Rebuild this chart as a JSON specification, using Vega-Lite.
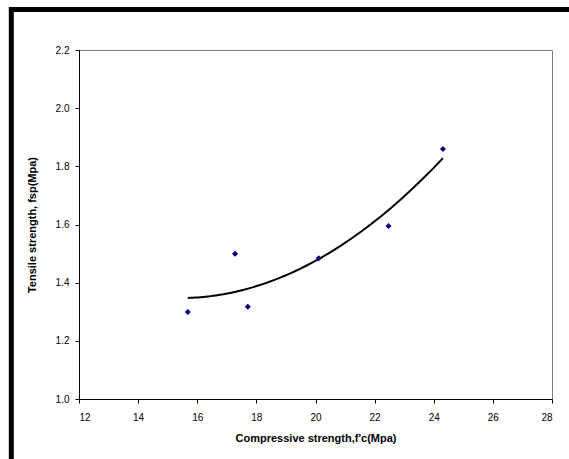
{
  "$schema": "https://vega.github.io/schema/vega-lite/v6.json",
  "autosize": "none",
  "width": 473,
  "height": 349,
  "padding": {"left": 79, "top": 50, "right": 17, "bottom": 60},
  "background": "white",
  "config": {
    "font": "Liberation Sans",
    "view": {"stroke": "#808080", "strokeWidth": 1},
    "axis": {
      "grid": false,
      "domainColor": "#000000",
      "domainWidth": 1,
      "tickColor": "#000000",
      "tickSize": 4,
      "labelColor": "#000000",
      "labelFont": "Liberation Sans",
      "labelFontSize": 10,
      "titleColor": "#000000",
      "titleFont": "Liberation Sans",
      "titleFontSize": 11,
      "titleFontWeight": "bold"
    }
  },
  "data": {
    "values": [
      {"fc": 15.68, "fsp": 1.299},
      {"fc": 17.28, "fsp": 1.499},
      {"fc": 17.71, "fsp": 1.317},
      {"fc": 20.11, "fsp": 1.484},
      {"fc": 22.47, "fsp": 1.595},
      {"fc": 24.31, "fsp": 1.86}
    ]
  },
  "layer": [
    {
      "data": {"values": [{"frame": "outer"}]},
      "mark": {"type": "rect", "fill": null, "stroke": "#000000", "strokeWidth": 5},
      "encoding": {
        "x": {"datum": 9.71, "type": "quantitative", "scale": {"domain": [12, 28], "nice": false, "zero": false}},
        "x2": {"datum": 28.9},
        "y": {"datum": 2.339, "type": "quantitative", "scale": {"domain": [1.0, 2.2], "nice": false, "zero": false}},
        "y2": {"datum": 0.75}
      }
    },
    {
      "transform": [{"regression": "fsp", "on": "fc", "method": "poly", "order": 2}],
      "mark": {"type": "line", "color": "#000000", "strokeWidth": 2},
      "encoding": {
        "x": {"field": "fc", "type": "quantitative"},
        "y": {"field": "fsp", "type": "quantitative"}
      }
    },
    {
      "mark": {"type": "point", "shape": "diamond", "filled": true, "color": "#000080", "size": 36, "opacity": 1},
      "encoding": {
        "x": {
          "field": "fc", "type": "quantitative",
          "scale": {"domain": [12, 28], "nice": false, "zero": false},
          "axis": {"values": [12, 14, 16, 18, 20, 22, 24, 26, 28], "format": "d", "labelPadding": 9, "title": "Compressive strength,f'c(Mpa)", "titlePadding": 10}
        },
        "y": {
          "field": "fsp", "type": "quantitative",
          "scale": {"domain": [1.0, 2.2], "nice": false, "zero": false},
          "axis": {"values": [1.0, 1.2, 1.4, 1.6, 1.8, 2.0, 2.2], "format": ".1f", "labelPadding": 6, "title": "Tensile strength, fsp(Mpa)", "titlePadding": 18}
        }
      }
    }
  ]
}
